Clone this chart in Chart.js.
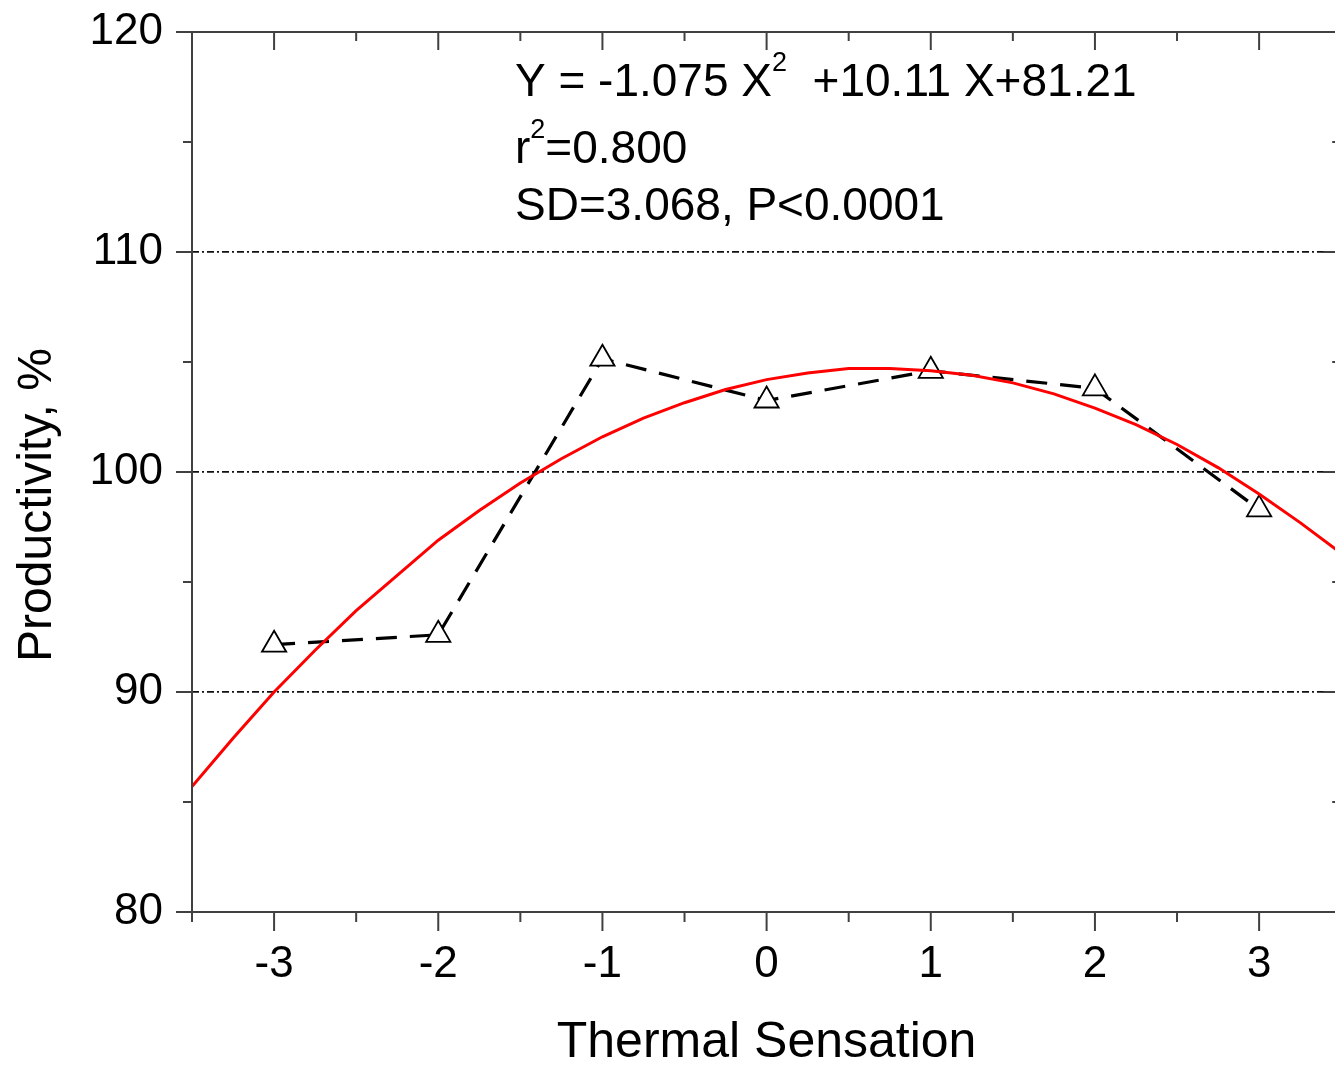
<!DOCTYPE html>
<html>
<head>
<meta charset="utf-8">
<script src="https://cdn.jsdelivr.net/npm/chart.js@4/dist/chart.umd.min.js"></script>
<style>
  html, body { margin: 0; padding: 0; background: #fff; overflow: hidden; }
  #wrap { width: 1335px; height: 1067px; overflow: hidden; }
</style>
</head>
<body>
<div id="wrap"><canvas id="chart" width="1357" height="1067"></canvas></div>
<script>
// Observed productivity at each thermal sensation vote
const sensation = [-3, -2, -1, 0, 1, 2, 3];
const productivity = [92.15, 92.6, 105.15, 103.25, 104.6, 103.8, 98.3];

// Quadratic fit curve
const fitX = [-3.5, -3.25, -3, -2.75, -2.5, -2.25, -2, -1.75, -1.5, -1.25, -1, -0.75, -0.5, -0.25,
              0, 0.25, 0.5, 0.75, 1, 1.25, 1.5, 1.75, 2, 2.25, 2.5, 2.75, 3, 3.25, 3.5];
const fitY = [85.7, 87.9, 90.0, 91.9, 93.7, 95.3, 96.9, 98.25, 99.5, 100.6, 101.6, 102.45, 103.15, 103.75,
              104.2, 104.5, 104.7, 104.7, 104.6, 104.4, 104.05, 103.55, 102.9, 102.15, 101.25, 100.2, 99.0, 97.7, 96.3];

const yTicks = [80, 90, 100, 110, 120];
const xTicks = [-3, -2, -1, 0, 1, 2, 3];

const annotationLines = [
  [['Y = -1.075 X', false], ['2', true], ['  +10.11 X+81.21', false]],
  [['r', false], ['2', true], ['=0.800', false]],
  [['SD=3.068, P<0.0001', false]]
];

const FONT = '"Liberation Sans", Arial, sans-serif';
const AXIS = '#404040';

// Frame, ticks, titles and equation text
const framePlugin = {
  id: 'frame',
  afterDraw(chart) {
    const { ctx, chartArea: a, scales: { x, y } } = chart;
    ctx.save();
    ctx.strokeStyle = AXIS;
    ctx.lineWidth = 2;
    ctx.lineCap = 'butt';

    const line = (x1, y1, x2, y2) => {
      ctx.beginPath(); ctx.moveTo(x1, y1); ctx.lineTo(x2, y2); ctx.stroke();
    };

    // box
    line(a.left, a.top, a.right, a.top);
    line(a.left, a.bottom, a.right, a.bottom);
    line(a.left, a.top, a.left, a.bottom);
    line(a.right, a.top, a.right, a.bottom);

    // x ticks: major on integers, minor on halves
    for (let v = x.min; v <= x.max + 1e-9; v += 0.5) {
      const px = x.getPixelForValue(v);
      const major = Math.abs(v - Math.round(v)) < 1e-9;
      line(px, a.bottom, px, a.bottom + (major ? 19 : 10));
      line(px, a.top, px, a.top + (major ? 18 : 9));
    }
    // y ticks
    for (let v = y.min; v <= y.max + 1e-9; v += 5) {
      const py = y.getPixelForValue(v);
      const major = v % 10 === 0;
      line(a.left - (major ? 16 : 9), py, a.left, py);
      line(a.right - (major ? 18 : 9), py, a.right, py);
    }

    ctx.fillStyle = '#000';

    // axis titles
    ctx.font = '50px ' + FONT;
    ctx.textAlign = 'center';
    ctx.textBaseline = 'middle';
    ctx.fillText('Thermal Sensation', (a.left + a.right) / 2, 1043);
    ctx.save();
    ctx.translate(38, 505);
    ctx.rotate(-Math.PI / 2);
    ctx.font = '48px ' + FONT;
    ctx.fillText('Productivity, %', 0, 0);
    ctx.restore();

    // equation block
    ctx.textAlign = 'left';
    ctx.textBaseline = 'alphabetic';
    const baselines = [96, 163, 220];
    annotationLines.forEach((parts, i) => {
      let cx = 515;
      parts.forEach(([txt, sup]) => {
        ctx.font = (sup ? '27px ' : '46px ') + FONT;
        ctx.fillText(txt, cx, baselines[i] - (sup ? 25 : 0));
        cx += ctx.measureText(txt).width;
      });
    });
    ctx.restore();
  }
};

new Chart(document.getElementById('chart'), {
  type: 'scatter',
  data: {
    datasets: [
      {
        label: 'Fit',
        data: fitX.map((v, i) => ({ x: v, y: fitY[i] })),
        showLine: true,
        borderColor: '#ff0000',
        borderWidth: 3,
        pointRadius: 0,
        tension: 0
      },
      {
        label: 'Observed',
        data: sensation.map((v, i) => ({ x: v, y: productivity[i] })),
        showLine: true,
        borderColor: '#000',
        borderWidth: 3.2,
        borderDash: [21, 13],
        pointStyle: 'triangle',
        pointRadius: 14,
        pointBorderWidth: 1.8,
        pointBorderColor: '#000',
        pointBackgroundColor: '#fff',
        tension: 0
      }
    ]
  },
  options: {
    responsive: false,
    animation: false,
    events: [],
    layout: { padding: { top: 32, right: 3, left: 0, bottom: 0 } },
    plugins: {
      legend: { display: false },
      tooltip: { enabled: false }
    },
    scales: {
      x: {
        type: 'linear',
        min: -3.5,
        max: 3.5,
        afterFit: (s) => { s.height = 155; s.paddingLeft = 0; s.paddingRight = 0; },
        afterBuildTicks: (s) => { s.ticks = xTicks.map(v => ({ value: v })); },
        ticks: {
          padding: 26,
          color: '#000',
          font: { family: FONT, size: 44 },
          callback: (v) => String(v)
        },
        grid: { display: false, drawTicks: false },
        border: { display: false }
      },
      y: {
        min: 80,
        max: 120,
        afterFit: (s) => { s.width = 192; s.paddingTop = 0; s.paddingBottom = 0; },
        afterBuildTicks: (s) => { s.ticks = yTicks.map(v => ({ value: v })); },
        ticks: {
          padding: 29,
          color: '#000',
          font: { family: FONT, size: 44 },
          callback: (v) => String(v)
        },
        grid: {
          drawTicks: false,
          lineWidth: 1.7,
          color: (c) => (c.tick && (c.tick.value === 80 || c.tick.value === 120)) ? 'rgba(0,0,0,0)' : '#111'
        },
        border: { display: false, dash: [7, 3, 2, 3] }
      }
    }
  },
  plugins: [framePlugin]
});
</script>
</body>
</html>
